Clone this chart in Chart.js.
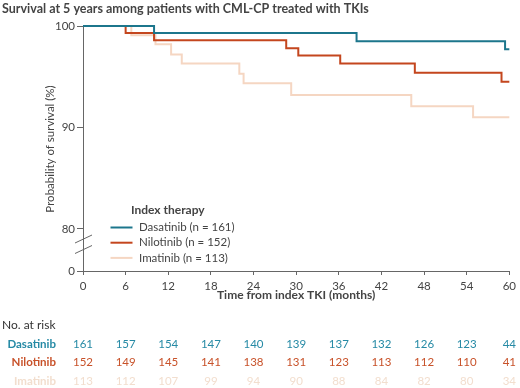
<!DOCTYPE html>
<html>
<head>
<meta charset="utf-8">
<script src="https://cdn.jsdelivr.net/npm/chart.js@4"></script>
<style>
  html, body { margin: 0; padding: 0; background: #fff; }
  #c { display: block; }
</style>
</head>
<body>
<canvas id="c" width="520" height="388"></canvas>
<script>
// ---- Data ----
const chartTitle = 'Survival at 5 years among patients with CML-CP treated with TKIs';
const xAxisTitle = 'Time from index TKI (months)';
const yAxisTitle = 'Probability of survival (%)';
const legendTitle = 'Index therapy';
const seriesNames = ['Dasatinib', 'Nilotinib', 'Imatinib'];
const seriesN = [161, 152, 113];

const dasatinibMonths = [0, 10, 38.5, 59.4, 60];
const dasatinibSurvival = [100, 99.3, 98.5, 97.7, 97.7];

const nilotinibMonths = [0, 6, 10, 28.6, 30.3, 36.2, 46.7, 58.9, 60];
const nilotinibSurvival = [100, 99.3, 98.6, 97.8, 97.1, 96.3, 95.4, 94.5, 94.5];

const imatinibMonths = [0, 6.8, 10.2, 12.4, 13.9, 22, 22.6, 29.3, 46.2, 54.9, 60];
const imatinibSurvival = [100, 99.1, 98.2, 97.2, 96.3, 95.3, 94.35, 93.2, 92.1, 91.0, 91.0];

const xTicks = [0, 6, 12, 18, 24, 30, 36, 42, 48, 54, 60];
const yTicks = [80, 90, 100];
const yBreakLabel = '0';   // label shown at the broken axis bottom

const riskTimes = [0, 6, 12, 18, 24, 30, 36, 42, 48, 54, 60];
const dasatinibAtRisk = [161, 157, 154, 147, 140, 139, 137, 132, 126, 123, 44];
const nilotinibAtRisk = [152, 149, 145, 141, 138, 131, 123, 113, 112, 110, 41];
const imatinibAtRisk = [113, 112, 107, 99, 94, 90, 88, 84, 82, 80, 34];

// ---- Styles ----
const lineColors = ['rgb(28,118,140)', 'rgb(196,70,30)', 'rgb(245,214,194)'];
const textColors = ['rgb(38,138,165)', 'rgb(200,82,42)', 'rgb(242,222,206)'];
const FONT = "Lato, 'Noto Sans', sans-serif";
const Y_MIN = 75.86;

function pts(xs, ys) { return xs.map((x, i) => ({ x: x, y: ys[i] })); }

const seriesData = [
  pts(dasatinibMonths, dasatinibSurvival),
  pts(nilotinibMonths, nilotinibSurvival),
  pts(imatinibMonths, imatinibSurvival)
];
const riskRows = [dasatinibAtRisk, nilotinibAtRisk, imatinibAtRisk];

const decor = {
  id: 'decor',
  afterDraw(chart) {
    const ctx = chart.ctx;
    const xs = chart.scales.x;
    const area = chart.chartArea;
    ctx.save();
    ctx.textBaseline = 'middle';
    // Title
    ctx.font = 'bold 12.5px ' + FONT;
    ctx.fillStyle = '#444';
    ctx.textAlign = 'left';
    ctx.fillText(chartTitle, 2, 9);

    // Axis titles
    ctx.font = 'bold 12px ' + FONT;
    ctx.textAlign = 'center';
    ctx.fillText(xAxisTitle, (area.left + area.right) / 2, 295.5);
    ctx.save();
    ctx.translate(50, 149);
    ctx.rotate(-Math.PI / 2);
    ctx.font = '11.5px ' + FONT;
    ctx.fillText(yAxisTitle, 0, 0);
    ctx.restore();

    // Axis break marks
    const ax = xs.left;
    ctx.strokeStyle = '#666';
    ctx.lineWidth = 1;
    [[243, 235], [253.5, 245.5]].forEach(([y1, y2]) => {
      ctx.beginPath();
      ctx.moveTo(ax - 8, y1);
      ctx.lineTo(ax + 9, y2);
      ctx.stroke();
    });

    // Legend
    ctx.textAlign = 'left';
    ctx.font = 'bold 12px ' + FONT;
    ctx.fillStyle = '#444';
    ctx.fillText(legendTitle, 131, 210);
    ctx.font = '11.5px ' + FONT;
    seriesNames.forEach((name, i) => {
      const y = 227.5 + i * 15.2;
      ctx.strokeStyle = lineColors[i];
      ctx.lineWidth = 2;
      ctx.beginPath();
      ctx.moveTo(110.5, y);
      ctx.lineTo(132.5, y);
      ctx.stroke();
      ctx.fillStyle = '#444';
      ctx.fillText(name + ' (n = ' + seriesN[i] + ')', 139, y);
    });

    // Risk table
    ctx.font = '12px ' + FONT;
    ctx.fillStyle = '#333';
    ctx.textAlign = 'left';
    ctx.fillText('No. at risk', 2, 325);
    riskRows.forEach((row, i) => {
      const y = 344.3 + i * 18.4;
      ctx.font = 'bold 11.5px ' + FONT;
      ctx.fillStyle = textColors[i];
      ctx.textAlign = 'right';
      ctx.fillText(seriesNames[i], 56, y);
      ctx.font = '11.5px ' + FONT;
      ctx.textAlign = 'center';
      row.forEach((v, j) => {
        ctx.fillText(String(v), xs.getPixelForValue(riskTimes[j]), y);
      });
    });
    ctx.restore();
  }
};

new Chart(document.getElementById('c'), {
  type: 'scatter',
  data: {
    datasets: seriesNames.map((name, i) => ({
      label: name,
      data: seriesData[i],
      showLine: true,
      stepped: 'before',
      borderColor: lineColors[i],
      backgroundColor: lineColors[i],
      borderWidth: 2,
      pointRadius: 0,
      fill: false,
      clip: 3
    }))
  },
  options: {
    responsive: false,
    animation: false,
    events: [],
    layout: { padding: { top: 26, right: 7, left: 0, bottom: 93 } },
    plugins: { legend: { display: false }, tooltip: { enabled: false } },
    scales: {
      x: {
        type: 'linear',
        min: 0, max: 60,
        afterBuildTicks: s => { s.ticks = xTicks.map(v => ({ value: v })); },
        afterFit: s => { s.height = 24; },
        border: { color: '#666', width: 1 },
        grid: { drawOnChartArea: false, tickLength: 4, color: '#666' },
        ticks: { color: '#444', font: { family: FONT, size: 11.5 }, padding: 4, maxRotation: 0 }
      },
      y: {
        type: 'linear',
        min: Y_MIN, max: 100,
        afterBuildTicks: s => { s.ticks = [{ value: Y_MIN }].concat(yTicks.map(v => ({ value: v }))); },
        afterFit: s => { s.width = 83; },
        border: { color: '#666', width: 1 },
        grid: { drawOnChartArea: false, tickLength: 6, color: '#666' },
        ticks: { color: '#444', font: { family: FONT, size: 11.5 }, padding: 2,
                 callback: v => (v === Y_MIN ? yBreakLabel : String(v)) }
      }
    }
  },
  plugins: [decor]
});
</script>
</body>
</html>
